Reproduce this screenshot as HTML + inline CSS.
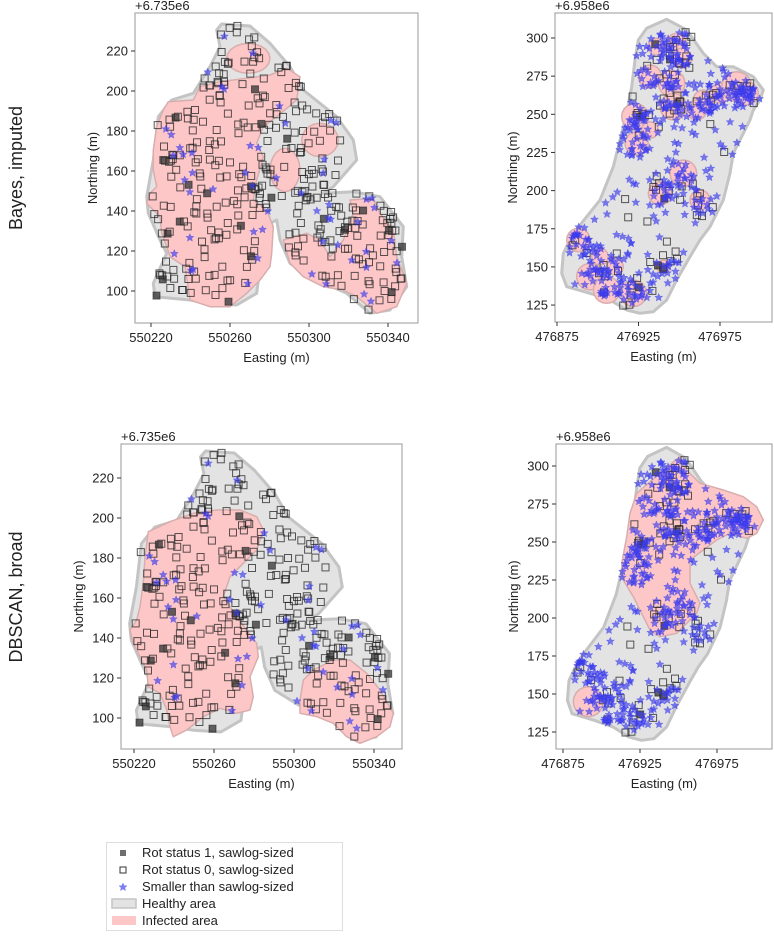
<!DOCTYPE html>
<html><head><meta charset="utf-8"><style>
html,body{margin:0;padding:0;background:#fff;}
svg text{font-family:"Liberation Sans",sans-serif;fill:#222;}
</style></head><body>
<svg id="s" width="774" height="934" xmlns="http://www.w3.org/2000/svg"></svg>
<script>
let seed=12345;function rnd(){seed=(seed*1103515245+12345)%2147483648;return seed/2147483648;}
function gauss(){return Math.sqrt(-2*Math.log(rnd()+1e-9))*Math.cos(2*Math.PI*rnd());}
const a1=p=>[220+(p[0]/3-61)/1.975,220-(p[1]/3-51)/2];
const a3=p=>[220+(p[0]/3-74)/2,220-(p[1]/3-28)/2];
const b2=p=>[875+(p[0]/3-57)/1.63,300-(p[1]/3-38)/1.526];
const b4=p=>[875+(p[0]/3-73)/1.54,300-(p[1]/3-16)/1.52];
function circ(cx,cy,r,rx){rx=rx||r;let o=[];for(let i=0;i<20;i++){let t=i/20*2*Math.PI;o.push([cx+rx*Math.cos(t),cy+r*Math.sin(t)]);}return o;}
const Aout=[[395,72],[480,78],[540,130],[600,200],[640,270],[740,350],[790,420],[800,480],[730,560],[700,580],[790,575],[870,590],[940,680],[935,770],[950,860],[900,930],[840,940],[770,880],[680,840],[600,790],[570,720],[560,660],[520,680],[510,800],[500,880],[440,915],[360,910],[300,900],[195,890],[190,850],[230,760],[210,720],[175,640],[170,590],[190,480],[205,350],[245,300],[310,280],[360,200],[390,140],[380,90]].map(a1);
const ApinkBayes=[
[[235,305],[310,300],[330,260],[390,245],[470,235],[540,225],[590,205],[630,230],[620,300],[560,350],[520,380],[500,430],[520,470],[500,540],[490,600],[530,630],[550,680],[545,760],[540,800],[510,840],[470,880],[420,920],[360,920],[300,900],[285,800],[240,770],[230,740],[215,700],[210,650],[170,610],[180,580],[200,560],[190,510],[190,450],[200,380],[220,330]],
circ(475,175,45,65),circ(690,420,50,55),circ(585,510,65,45),
[[580,720],[650,700],[690,720],[720,770],[760,720],[790,640],[780,600],[850,595],[870,640],[910,690],[920,770],[950,850],[920,920],[860,940],[800,890],[760,870],[700,860],[640,830],[600,790]]
].map(p=>p.map(a1));
const ApinkDB=[
[[265,245],[330,215],[400,190],[470,180],[540,180],[590,200],[610,240],[590,300],[550,340],[510,380],[490,440],[530,500],[560,540],[590,580],[595,620],[570,680],[580,740],[570,780],[530,790],[480,775],[430,800],[380,840],[340,860],[330,830],[320,780],[300,730],[265,710],[260,660],[240,620],[220,580],[210,540],[230,510],[240,470],[250,400],[255,320]].map(a3),
[[720,750],[730,690],[760,660],[820,630],[870,630],[920,670],[960,720],[1000,790],[990,830],[950,860],[900,880],[860,860],[820,820],[770,800],[720,790]].map(a3)];
const Bout=[[440,85],[500,58],[560,90],[610,160],[650,200],[700,200],[760,230],[790,270],[780,300],[760,330],[750,360],[720,420],[700,460],[690,520],[670,600],[650,640],[630,680],[600,720],[570,770],[530,840],[500,900],[460,935],[420,940],[380,930],[330,900],[270,880],[200,860],[185,820],[190,760],[220,700],[260,650],[300,600],[340,500],[360,420],[380,340],[395,260],[405,180],[415,120]].map(b2);
const Bc=[[450,230,35],[470,140,25],[530,130,30],[545,175,30],[515,250,40],[520,320,40],[405,350,40],[410,430,35],[450,390,25],[550,520,40],[480,580,35],[610,300,30],[660,280,30],[710,260,45],[590,330,30],[235,720,35],[300,770,25],[345,800,25],[270,830,40],[320,870,40],[400,880,40],[600,600,30],[490,800,20],[740,280,35]];
const BpinkBayes=Bc.map(c=>circ(c[0],c[1],c[2]).map(b2));
const BpinkDB=[[[440,130],[480,95],[545,40],[570,20],[590,60],[630,100],[700,120],[760,140],[800,170],[820,210],[800,250],[770,265],[720,250],[680,270],[640,300],[600,330],[600,400],[630,460],[620,490],[590,520],[560,550],[510,560],[480,540],[460,500],[430,440],[400,390],[395,340],[410,260],[420,190]].map(b4),circ(295,755,45).map(b4)];
function inside(pt,poly){let c=false;for(let i=0,j=poly.length-1;i<poly.length;j=i++){let [xi,yi]=poly[i],[xj,yj]=poly[j];if(((yi>pt[1])!=(yj>pt[1]))&&(pt[0]<(xj-xi)*(pt[1]-yi)/(yj-yi)+xi))c=!c;}return c;}
function sampleIn(poly,n,bb){let o=[];let g=0;while(o.length<n&&g<100000){g++;let p=[bb[0]+rnd()*(bb[1]-bb[0]),bb[2]+rnd()*(bb[3]-bb[2])];if(inside(p,poly))o.push(p);}return o;}
const Asq=sampleIn(Aout,320,[215,352,88,235]);
const Afill=sampleIn(Aout,22,[215,352,88,235]);
const Astar=sampleIn(Aout,55,[215,352,88,235]);
const Bcd=Bc.map(c=>b2([c[0],c[1]]));
let Bstar=[];
for(let i=0;i<560;i++){let p;if(rnd()<0.6){let c=Bcd[Math.floor(rnd()*Bcd.length)];p=[c[0]+gauss()*5,c[1]+gauss()*5];}else{p=[880+rnd()*120,120+rnd()*190];}
 if(inside(p,Bout))Bstar.push(p);}
let Bsq=[];for(let i=0;i<100;i++){let p;if(rnd()<0.6){let c=Bcd[Math.floor(rnd()*Bcd.length)];p=[c[0]+gauss()*5,c[1]+gauss()*5];}else{p=[880+rnd()*120,120+rnd()*190];}if(inside(p,Bout))Bsq.push(p);}
let Bfill=[];for(let i=0;i<8;i++){let c=Bcd[Math.floor(rnd()*Bcd.length)];Bfill.push([c[0]+gauss()*3,c[1]+gauss()*3]);}

const plots=[
{id:'tl',f:[135,13,418,323],tx:E=>151+(E-220)*1.975,ty:N=>51+(220-N)*2,xt:[220,260,300,340],xp:'550',yt:[100,120,140,160,180,200,220],off:'+6.735e6',out:Aout,pink:ApinkBayes,sq:Asq,fill:Afill,st:Astar},
{id:'tr',f:[555,13,772,322],tx:E=>557+(E-875)*1.63,ty:N=>38+(300-N)*1.526,xt:[875,925,975],xp:'476',yt:[125,150,175,200,225,250,275,300],off:'+6.958e6',out:Bout,pink:BpinkBayes,sq:Bsq,fill:Bfill,st:Bstar},
{id:'bl',f:[121,444,402,749],tx:E=>134+(E-220)*2,ty:N=>478+(220-N)*2,xt:[220,260,300,340],xp:'550',yt:[100,120,140,160,180,200,220],off:'+6.735e6',out:Aout,pink:ApinkDB,sq:Asq,fill:Afill,st:Astar},
{id:'br',f:[556,444,772,749],tx:E=>563+(E-875)*1.54,ty:N=>466+(300-N)*1.52,xt:[875,925,975],xp:'476',yt:[125,150,175,200,225,250,275,300],off:'+6.958e6',out:Bout,pink:BpinkDB,sq:Bsq,fill:Bfill,st:Bstar}];
let h='<defs><polygon id="star" points="0,-4 1.2,-1.3 4,-1.2 1.9,0.7 2.5,3.6 0,2 -2.5,3.6 -1.9,0.7 -4,-1.2 -1.2,-1.3" fill="#3a3aee" fill-opacity="0.65" stroke="#3a3aee" stroke-opacity="0.5" stroke-width="0.5"/>';
plots.forEach(p=>{h+=`<clipPath id="c${p.id}"><rect x="${p.f[0]}" y="${p.f[1]}" width="${p.f[2]-p.f[0]}" height="${p.f[3]-p.f[1]}"/></clipPath>`;});
h+='</defs>';
const pts=(poly,p)=>poly.map(q=>p.tx(q[0]).toFixed(1)+','+p.ty(q[1]).toFixed(1)).join(' ');
plots.forEach(p=>{
 h+=`<g clip-path="url(#c${p.id})">`;
 h+=`<polygon points="${pts(p.out,p)}" fill="#e3e3e3" stroke="#c4c4c4" stroke-width="3" stroke-linejoin="round"/>`;
 p.pink.forEach(pk=>{h+=`<polygon points="${pts(pk,p)}" fill="#fdc7c7" stroke="#d9adad" stroke-width="1.5" stroke-linejoin="round"/>`;});
 p.sq.forEach(q=>{h+=`<rect x="${(p.tx(q[0])-3.5).toFixed(1)}" y="${(p.ty(q[1])-3.5).toFixed(1)}" width="7" height="7" fill="none" stroke="#222" stroke-opacity="0.75" stroke-width="1"/>`;});
 p.fill.forEach(q=>{h+=`<rect x="${(p.tx(q[0])-3.5).toFixed(1)}" y="${(p.ty(q[1])-3.5).toFixed(1)}" width="7" height="7" fill="#333" fill-opacity="0.75" stroke="#222" stroke-opacity="0.6"/>`;});
 p.st.forEach(q=>{h+=`<use href="#star" x="${p.tx(q[0]).toFixed(1)}" y="${p.ty(q[1]).toFixed(1)}"/>`;});
 h+='</g>';
 h+=`<rect x="${p.f[0]}" y="${p.f[1]}" width="${p.f[2]-p.f[0]}" height="${p.f[3]-p.f[1]}" fill="none" stroke="#999" stroke-width="1"/>`;
 p.xt.forEach(t=>{let x=p.tx(t);h+=`<line x1="${x}" x2="${x}" y1="${p.f[3]}" y2="${p.f[3]+4}" stroke="#333"/><text x="${x}" y="${p.f[3]+19}" font-size="13" text-anchor="middle">${p.xp}${t}</text>`;});
 p.yt.forEach(t=>{let y=p.ty(t);h+=`<line x1="${p.f[0]-4}" x2="${p.f[0]}" y1="${y}" y2="${y}" stroke="#333"/><text x="${p.f[0]-7}" y="${y+4.5}" font-size="13" text-anchor="end">${t}</text>`;});
 h+=`<text x="${p.f[0]}" y="${p.f[1]-3}" font-size="13">${p.off}</text>`;
 h+=`<text x="${(p.f[0]+p.f[2])/2}" y="${p.f[3]+39}" font-size="13" text-anchor="middle">Easting (m)</text>`;
 let yc=(p.f[1]+p.f[3])/2, xl=p.f[0]-38;
 h+=`<text transform="translate(${xl},${yc}) rotate(-90)" font-size="13" text-anchor="middle">Northing (m)</text>`;
});
h+=`<text transform="translate(22,168) rotate(-90)" font-size="18" text-anchor="middle">Bayes, imputed</text>`;
h+=`<text transform="translate(22,597) rotate(-90)" font-size="18" text-anchor="middle">DBSCAN, broad</text>`;
h+=`<rect x="106.5" y="842.5" width="236" height="88" fill="#fff" stroke="#ddd"/>`;
h+=`<rect x="120" y="850" width="6" height="6" fill="#555" fill-opacity="0.85"/>`;
h+=`<rect x="120" y="867" width="6" height="6" fill="none" stroke="#333"/>`;
h+=`<use href="#star" x="123" y="887"/>`;
h+=`<rect x="112" y="899" width="24" height="9" fill="#e3e3e3" stroke="#c4c4c4" stroke-width="1.5"/>`;
h+=`<rect x="112" y="916" width="24" height="9" fill="#fdc7c7"/>`;
[['Rot status 1, sawlog-sized',857],['Rot status 0, sawlog-sized',874],['Smaller than sawlog-sized',891],['Healthy area',908],['Infected area',925]].forEach(r=>{h+=`<text x="142" y="${r[1]}" font-size="13">${r[0]}</text>`;});
document.getElementById('s').innerHTML=h;
</script>
</body></html>
